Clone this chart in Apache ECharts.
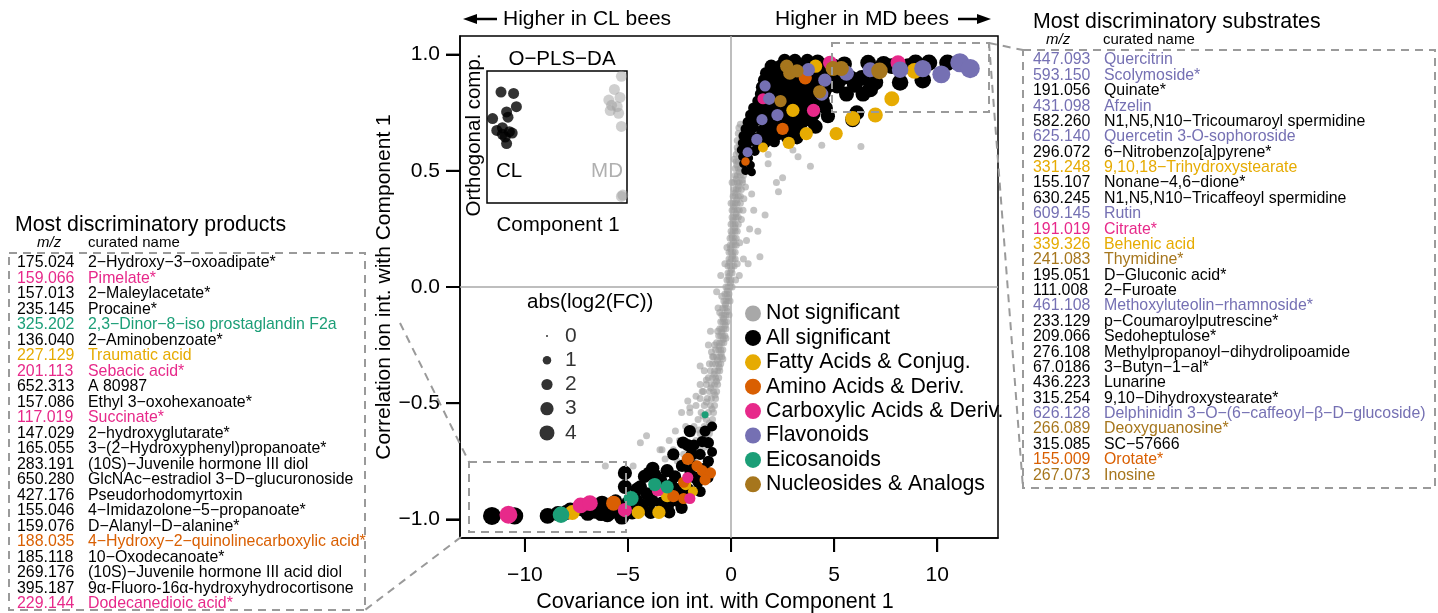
<!DOCTYPE html>
<html><head><meta charset="utf-8">
<script src="https://cdn.jsdelivr.net/npm/echarts@6/dist/echarts.min.js"></script>
<style>html,body{margin:0;padding:0;background:#fff}#c{width:1438px;height:613px}</style>
</head><body><div id="c"></div>
<script>
const FONT = '"Liberation Sans", Arial, sans-serif';
const xTicks = [-10, -5, 0, 5, 10];
const yTicks = [-1, -0.5, 0, 0.5, 1];
const sizeLegendValues = [0, 1, 2, 3, 4];
const X_MIN = -13.15, X_MAX = 12.95, Y_MIN = -1.08, Y_MAX = 1.08;

// Not significant features [covariance, correlation]
const notSig = [
[0.45,0.70],[0.70,0.70],[1.00,0.70],
[0.35,0.66],[0.55,0.66],[0.90,0.66],
[0.30,0.63],[0.50,0.63],[0.75,0.63],[1.30,0.63],
[0.30,0.60],[0.45,0.60],[0.65,0.60],[1.10,0.60],
[0.25,0.57],[0.40,0.57],[0.60,0.57],[0.85,0.57],
[0.25,0.54],[0.35,0.54],[0.50,0.54],[0.70,0.54],
[0.20,0.51],[0.35,0.51],[0.45,0.51],[0.65,0.51],
[0.20,0.48],[0.30,0.48],[0.45,0.48],[0.60,0.48],
[0.15,0.45],[0.30,0.45],[0.40,0.45],[0.55,0.45],
[0.15,0.42],[0.25,0.42],[0.35,0.42],[0.50,0.42],
[0.10,0.39],[0.20,0.39],[0.35,0.39],[0.45,0.39],
[0.10,0.36],[0.20,0.36],[0.30,0.36],[0.45,0.36],
[0.05,0.33],[0.15,0.33],[0.30,0.33],[0.40,0.33],
[0.05,0.30],[0.15,0.30],[0.25,0.30],[0.35,0.30],
[0.00,0.27],[0.10,0.27],[0.20,0.27],[0.35,0.27],
[0.00,0.24],[0.10,0.24],[0.20,0.24],[0.30,0.24],
[-0.05,0.21],[0.05,0.21],[0.15,0.21],[0.25,0.21],
[-0.05,0.18],[0.05,0.18],[0.15,0.18],[0.25,0.18],
[-0.10,0.15],[0.00,0.15],[0.10,0.15],[0.20,0.15],
[-0.10,0.12],[0.00,0.12],[0.10,0.12],[0.20,0.12],
[-0.15,0.09],[-0.05,0.09],[0.05,0.09],[0.15,0.09],
[-0.15,0.06],[-0.05,0.06],[0.05,0.06],
[-0.20,0.03],[-0.10,0.03],[0.00,0.03],
[-0.25,0.00],[-0.15,0.00],[-0.05,0.00],[0.05,0.00],
[-0.30,-0.03],[-0.20,-0.03],[-0.10,-0.03],
[-0.35,-0.06],[-0.25,-0.06],[-0.15,-0.06],[-0.05,-0.06],
[-0.40,-0.09],[-0.30,-0.09],[-0.20,-0.09],
[-0.45,-0.12],[-0.35,-0.12],[-0.25,-0.12],[-0.10,-0.12],
[-0.50,-0.15],[-0.40,-0.15],[-0.30,-0.15],[-0.20,-0.15],
[-0.55,-0.18],[-0.45,-0.18],[-0.35,-0.18],[-0.25,-0.18],
[-0.60,-0.21],[-0.50,-0.21],[-0.40,-0.21],[-0.30,-0.21],
[-0.70,-0.24],[-0.55,-0.24],[-0.45,-0.24],[-0.35,-0.24],
[-0.75,-0.27],[-0.60,-0.27],[-0.50,-0.27],[-0.40,-0.27],
[-0.85,-0.30],[-0.70,-0.30],[-0.55,-0.30],[-0.45,-0.30],
[-0.90,-0.33],[-0.75,-0.33],[-0.60,-0.33],[-0.50,-0.33],
[-1.00,-0.36],[-0.80,-0.36],[-0.65,-0.36],[-0.55,-0.36],
[-1.10,-0.39],[-0.90,-0.39],[-0.75,-0.39],[-0.60,-0.39],
[-1.20,-0.42],[-0.95,-0.42],[-0.80,-0.42],[-0.65,-0.42],
[-1.35,-0.45],[-1.05,-0.45],[-0.85,-0.45],[-0.70,-0.45],
[-1.50,-0.48],[-1.15,-0.48],[-0.95,-0.48],[-0.75,-0.48],
[-1.70,-0.51],[-1.30,-0.51],[-1.00,-0.51],[-0.80,-0.51],
[-2.00,-0.54],[-1.45,-0.54],[-1.10,-0.54],[-0.85,-0.54],
[-1.60,-0.57],[-1.20,-0.57],[-0.90,-0.57],
[-1.80,-0.60],[-1.30,-0.60],[-0.95,-0.60],
[-1.50,-0.63],[-1.05,-0.63],
[-1.70,-0.66],[-1.15,-0.66],
[-2.00,-0.69],[-1.30,-0.69],
[-2.30,-0.72],
[0.38,0.685],[0.62,0.645],[0.42,0.615],[0.33,0.585],[0.52,0.555],[0.28,0.525],[0.40,0.495],[0.24,0.465],
[0.36,0.435],[0.19,0.405],[0.28,0.375],[0.14,0.345],[0.24,0.315],[0.09,0.285],[0.19,0.255],[0.04,0.225],
[0.12,0.195],[-0.02,0.165],[0.07,0.135],[-0.07,0.105],[0.02,0.075],[-0.11,0.045],[-0.03,0.015],[-0.18,-0.015],
[-0.12,-0.045],[-0.27,-0.075],[-0.18,-0.105],[-0.37,-0.135],[-0.28,-0.165],[-0.45,-0.195],[-0.38,-0.225],
[-0.58,-0.255],[-0.48,-0.285],[-0.66,-0.315],[-0.57,-0.345],[-0.82,-0.375],[-0.70,-0.405],[-0.98,-0.435],
[-0.78,-0.465],[-1.2,-0.495],[-0.92,-0.525],[-1.35,-0.555],[-1.05,-0.585],[-1.55,-0.615],[-1.25,-0.645],
[-2.2,-0.60],[-2.5,-0.66],[-1.9,-0.63],[-2.8,-0.70],[-3.2,-0.74],[-2.2,-0.77],[-1.6,-0.70],
[0.55,0.46],[0.62,0.38],[0.5,0.29],[0.42,0.19],[0.3,0.10],[0.22,0.03],[-0.45,-0.04],[-0.55,-0.11],
[-0.65,-0.19],[-0.8,-0.25],[-0.95,-0.28],[-1.05,-0.33],[-1.3,-0.36],[-1.5,-0.42],[-1.7,-0.47],[-2.1,-0.49],
[-0.3,0.10],[-0.2,0.17],[-0.25,-0.22],[-0.4,-0.31],[0.0,0.36],[0.05,0.45],[0.15,0.55],
[2.2,0.45],[2.3,0.41],[2.5,0.47],[1.4,0.13],[1.3,0.24],[1.65,0.31],[0.83,0.10],[0.6,0.12],
[0.58,0.33],[1.8,0.53],[1.8,0.57],[3.25,0.56],[3.85,0.52],[4.4,0.61],[6.3,0.605],[1.0,0.40],
[0.9,0.25],[1.2,0.62],[3.0,0.59],[0.75,0.20],[1.1,0.33],[0.4,0.05],[0.7,0.43],
[-4.4,-0.67],[-3.35,-0.70],[-2.4,-0.54],[-2.0,-0.52],[-6.1,-0.77],[-4.75,-0.77],[-4.1,-0.64],
[-3.45,-0.70],[-1.4,-0.45],[-1.5,-0.34],[-1.0,-0.19],[-0.63,-0.09],[-0.9,-0.30],[-1.2,-0.40],
[-2.7,-0.62],[-3.0,-0.66],[-2.6,-0.75],[-1.8,-0.75],[-1.5,-0.78],[-2.0,-0.80],[-0.5,0.05],
[-0.7,-0.02],[-1.1,-0.25]
];

// All significant features [covariance, correlation, abs(log2FC)]
const allSig = [
[2.6,0.975,3],[3.1,0.975,3],[3.7,0.975,3],[4.2,0.97,3.5],
[1.95,0.95,3],[2.4,0.95,3],[2.9,0.955,3],[3.4,0.95,3],[3.9,0.95,3.5],[4.4,0.955,3.5],[5.0,0.95,4],
[1.7,0.92,2.5],[2.1,0.925,3],[2.55,0.92,3],[3.05,0.915,3],[3.5,0.92,3],[4.0,0.92,3.5],[4.5,0.925,3.5],[5.1,0.915,4],
[1.6,0.89,2.5],[2.0,0.885,2.5],[2.45,0.89,3],[2.9,0.895,3],[3.35,0.885,3],[3.8,0.89,3],[4.25,0.885,3.5],[4.75,0.895,3.5],[5.2,0.885,4],
[1.5,0.86,2.5],[1.9,0.855,2.5],[2.3,0.86,3],[2.8,0.865,3],[3.2,0.855,3],[3.65,0.86,3],[4.1,0.865,3.5],[4.6,0.855,3.5],[5.15,0.865,4],
[1.45,0.83,2.5],[1.85,0.835,2.5],[2.25,0.825,3],[2.7,0.83,3],[3.15,0.835,3],[3.6,0.825,3],[4.05,0.83,3.5],[4.5,0.835,3.5],
[1.3,0.80,2],[1.7,0.795,2.5],[2.15,0.80,3],[2.6,0.805,3],[3.05,0.795,3],[3.5,0.80,3],[3.95,0.795,3.5],[4.45,0.80,3.5],
[1.1,0.77,2],[1.5,0.775,2.5],[1.95,0.765,2.5],[2.4,0.77,3],[2.85,0.775,3],[3.3,0.765,3],[3.75,0.77,3],[4.6,0.77,3.5],
[0.95,0.74,2],[1.35,0.745,2],[1.8,0.735,2.5],[2.25,0.74,2.5],[2.7,0.745,3],[3.15,0.735,3],[3.6,0.74,3],[4.0,0.745,3.5],[4.7,0.735,3.5],
[0.8,0.71,1.5],[1.2,0.715,2],[1.65,0.705,2],[2.1,0.71,2.5],[2.55,0.715,2.5],[3.0,0.705,3],[3.45,0.71,3],[3.9,0.715,3],
[0.7,0.68,1.5],[1.05,0.685,2],[1.5,0.675,2],[1.95,0.68,2],[2.4,0.685,2.5],[2.85,0.675,2.5],[3.3,0.68,3],[4.1,0.69,3.5],
[0.6,0.65,1.5],[0.95,0.655,1.5],[1.35,0.645,2],[1.8,0.65,2],[2.25,0.655,2.5],[2.7,0.645,2.5],[3.2,0.64,2.5],
[0.55,0.62,1.2],[0.85,0.625,1.5],[1.25,0.615,1.5],[1.65,0.62,2],[2.1,0.625,2],
[0.5,0.59,1.2],[0.8,0.595,1.2],[1.15,0.585,1.5],
[0.55,0.56,1],[0.85,0.555,1.2],
[0.6,0.53,1],[0.95,0.525,1],
[0.7,0.50,1],[1.0,0.495,1],
[5.5,0.96,4],[5.8,0.90,4],[6.0,0.87,4.5],[6.35,0.90,4.5],[6.65,0.965,4.5],[6.75,0.85,4.5],[7.0,0.88,4.5],
[7.4,0.96,4.5],[7.8,0.95,4.5],[8.2,0.88,5],[8.6,0.95,4.5],[8.95,0.965,5],[9.3,0.89,5],[9.6,0.965,5],
[10.5,0.965,5],[6.1,0.75,4],[5.9,0.72,4],[5.6,0.83,4],[6.4,0.83,4],[4.8,0.907,4],[5.29,0.893,4],
[-11.6,-0.985,6],[-10.5,-0.985,5.5],[-8.9,-0.985,4.5],[-8.4,-0.975,4],[-8.0,-0.97,4],[-7.8,-0.96,4],
[-6.95,-0.974,4],[-6.6,-0.965,4],[-6.26,-0.93,4],[-6.0,-0.98,4],[-5.78,-0.966,4],[-5.5,-0.95,3.5],
[-5.3,-0.99,4],[-5.15,-0.80,3.5],[-5.15,-0.86,3.5],[-5.0,-0.93,3.5],[-4.8,-0.97,3.5],[-4.6,-0.92,3.5],
[-4.56,-0.87,3],[-4.4,-0.86,3],[-4.3,-0.94,3],[-4.2,-0.815,3],[-4.08,-0.89,3],[-4.0,-0.80,2.5],
[-3.9,-0.97,3],[-3.83,-0.92,3],[-3.8,-0.78,3],[-3.69,-0.81,3],[-3.5,-0.87,3],[-3.35,-0.93,3],
[-3.3,-0.96,2.5],[-3.1,-0.79,3],[-3.06,-0.94,2.5],[-3.0,-0.97,2.5],[-2.9,-0.85,2.5],[-2.8,-0.72,2.5],
[-2.72,-0.815,2.5],[-2.6,-0.92,2.5],[-2.57,-0.87,2.5],[-2.4,-0.95,2.5],[-2.38,-0.77,2.5],[-2.33,-0.67,2.5],
[-2.3,-0.90,2.5],[-2.1,-0.68,2.5],[-2.09,-0.87,2.5],[-2.0,-0.62,2.5],[-1.9,-0.72,2.5],[-1.8,-0.68,2],
[-1.8,-0.77,2],[-1.75,-0.82,2.5],[-1.5,-0.72,2],[-1.5,-0.88,2],[-1.4,-0.665,2],[-1.3,-0.78,2],
[-1.26,-0.62,2],[-1.12,-0.82,2],[-1.1,-0.67,2],[-1.1,-0.75,2],[-0.92,-0.60,1.5],[-0.92,-0.71,1.5],
[-3.4,-0.83,2.5],[-2.0,-0.79,2],[-1.6,-0.84,2],[-2.9,-0.91,2.5],[-4.7,-0.95,3],[-5.6,-0.92,3],
[-7.2,-0.955,4],[-6.3,-0.975,4]
];

const fattyAcids = [
[8.9,0.93,4.5],[7.8,0.81,4],[5.9,0.725,4],[7.0,0.74,4],[5.1,0.66,3],[3.65,0.66,3],[2.8,0.62,2.5],
[3.0,0.76,3],[4.1,0.95,3],[1.55,0.60,1.5],
[-7.7,-0.97,4],[-4.5,-0.97,3],[-3.5,-0.97,3],[-3.1,-0.9,2.5],[-1.85,-0.88,1.5],[-2.2,-0.85,2]
];
const aminoAcids = [
[3.6,0.90,3],[2.5,0.68,2.5],[0.7,0.54,1],
[-5.7,-0.93,4],[-2.8,-0.9,2.5],[-2.1,-0.74,2.5],[-1.65,-0.77,2],[-1.4,-0.79,2],[-1.0,-0.8,2],
[-1.26,-0.83,2],[-2.3,-0.84,2],[-2.3,-0.91,2]
];
const carboxylicAcids = [
[8.1,0.965,4],[4.8,0.965,3.5],[4.0,0.76,3],[1.55,0.81,2],
[-10.8,-0.98,6],[-7.3,-0.94,4.5],[-6.85,-0.93,4.5],[-5.15,-0.96,3.5],[-3.55,-0.875,2.5],[-2.1,-0.82,2],[-2.0,-0.91,2]
];
const flavonoids = [
[11.1,0.965,7],[11.6,0.94,7],[10.2,0.915,6],[9.3,0.94,5.5],[8.2,0.935,5],[6.75,0.935,4],[5.6,0.92,4],
[3.75,0.935,3],[4.4,0.83,3],[4.55,0.89,3],[1.85,0.81,2.5],[2.25,0.74,2.5],[1.5,0.72,2],[1.25,0.635,2],
[0.8,0.58,1.5],[1.65,0.865,2]
];
const eicosanoids = [
[-8.25,-0.98,5],[-4.85,-0.91,4],[-3.7,-0.85,3],[-3.1,-0.86,3],[-1.26,-0.55,0.6]
];
const nucleosides = [
[7.2,0.93,5],[5.35,0.94,4],[4.95,0.94,4],[4.3,0.84,3],[2.7,0.95,3],[2.85,0.92,3],[3.2,0.93,3],[2.4,0.80,2.5]
];

// inset O-PLS-DA scores (relative units)
const insetCL = [[0.10,0.84],[0.19,0.83],[0.21,0.73],[0.04,0.64],[0.14,0.69],[0.15,0.65],[0.07,0.55],
[0.11,0.57],[0.16,0.54],[0.13,0.50],[0.14,0.45],[0.18,0.53],[0.11,0.52]];
const insetMD = [[0.96,0.96],[0.91,0.86],[0.95,0.80],[0.89,0.74],[0.93,0.73],[0.94,0.68],[0.88,0.70],
[0.96,0.58],[0.96,0.05],[0.97,0.06],[0.87,0.78]];

// lists
const productMz = ['175.024','159.066','157.013','235.145','325.202','136.040','227.129','201.113','652.313',
'157.086','117.019','147.029','165.055','283.191','650.280','427.176','155.046','159.076','188.035','185.118',
'269.176','395.187','229.144'];
const productNames = ['2−Hydroxy−3−oxoadipate*','Pimelate*','2−Maleylacetate*','Procaine*',
'2,3−Dinor−8−iso prostaglandin F2a','2−Aminobenzoate*','Traumatic acid','Sebacic acid*','A 80987',
'Ethyl 3−oxohexanoate*','Succinate*','2−hydroxyglutarate*','3−(2−Hydroxyphenyl)propanoate*',
'(10S)−Juvenile hormone III diol','GlcNAc−estradiol 3−D−glucuronoside','Pseudorhodomyrtoxin',
'4−Imidazolone−5−propanoate*','D−Alanyl−D−alanine*','4−Hydroxy−2−quinolinecarboxylic acid*',
'10−Oxodecanoate*','(10S)−Juvenile hormone III acid diol','9α-Fluoro-16α-hydroxyhydrocortisone',
'Dodecanedioic acid*'];
const productClass = ['n','c','n','n','e','n','f','c','n','n','c','n','n','n','n','n','n','n','a','n','n','n','c'];

const substrateMz = ['447.093','593.150','191.056','431.098','582.260','625.140','296.072','331.248','155.107',
'630.245','609.145','191.019','339.326','241.083','195.051','111.008','461.108','233.129','209.066','276.108',
'67.0186','436.223','315.254','626.128','266.089','315.085','155.009','267.073'];
const substrateNames = ['Quercitrin','Scolymoside*','Quinate*','Afzelin','N1,N5,N10−Tricoumaroyl spermidine',
'Quercetin 3-O-sophoroside','6−Nitrobenzo[a]pyrene*','9,10,18−Trihydroxystearate','Nonane−4,6−dione*',
'N1,N5,N10−Tricaffeoyl spermidine','Rutin','Citrate*','Behenic acid','Thymidine*','D−Gluconic acid*',
'2−Furoate','Methoxyluteolin−rhamnoside*','p−Coumaroylputrescine*','Sedoheptulose*',
'Methylpropanoyl−dihydrolipoamide','3−Butyn−1−al*','Lunarine','9,10−Dihydroxystearate*',
'Delphinidin 3−O−(6−caffeoyl−β−D−glucoside)','Deoxyguanosine*','SC−57666','Orotate*','Inosine'];
const substrateClass = ['fl','fl','n','fl','n','fl','n','f','n','n','fl','c','f','nu','n','n','fl','n','n','n',
'n','n','n','fl','nu','n','a','nu'];

const COLORS = {n:'#000000', f:'#E6AB02', a:'#D95F02', c:'#E7298A', fl:'#7570B3', e:'#1B9E77', nu:'#A6761D'};
const GRAY = '#9C9C9C';

const sz = v => 2 + 6.5 * Math.sqrt(v);
const minus = s => String(s).replace('-', '\u2212');

const chart = echarts.init(document.getElementById('c'), null, {renderer: 'canvas'});

function txt(x, y, text, color, size, extra) {
  return {type: 'text', x: x, y: y, silent: true, z: 100,
    style: Object.assign({text: text, fill: color, fontSize: size, fontFamily: FONT,
      align: 'left', verticalAlign: 'middle'}, extra || {})};
}
const dash = {stroke: '#9A9A9A', lineWidth: 2, lineDash: [8, 6], fill: null};
function dline(x1, y1, x2, y2) {
  return {type: 'line', silent: true, z: 90, shape: {x1, y1, x2, y2}, style: Object.assign({}, dash)};
}
function drect(x, y, w, h) {
  return {type: 'rect', silent: true, z: 90, shape: {x, y, width: w, height: h}, style: Object.assign({}, dash)};
}

const LIST_FS = 15.9;
const TICK_LEN = 14;
const TICK_W = 2;
const graphics = [];
// header arrows and labels
graphics.push({type: 'line', silent: true, shape: {x1: 474, y1: 19, x2: 497, y2: 19}, style: {stroke: '#000', lineWidth: 2.5}});
graphics.push({type: 'polygon', silent: true, shape: {points: [[463, 19], [477, 14], [477, 24]]}, style: {fill: '#000'}});
graphics.push(txt(503, 19, 'Higher in CL bees', '#000', 21));
graphics.push(txt(775, 19, 'Higher in MD bees', '#000', 21));
graphics.push({type: 'line', silent: true, shape: {x1: 958, y1: 19, x2: 980, y2: 19}, style: {stroke: '#000', lineWidth: 2.5}});
graphics.push({type: 'polygon', silent: true, shape: {points: [[991, 19], [977, 14], [977, 24]]}, style: {fill: '#000'}});

// inset labels
graphics.push(txt(562, 59, 'O\u2212PLS\u2212DA', '#000', 20.5, {align: 'center'}));
graphics.push(txt(558, 225, 'Component 1', '#000', 20.5, {align: 'center'}));
graphics.push({type: 'text', x: 474, y: 135, rotation: Math.PI / 2, silent: true, z: 100,
  style: {text: 'Orthogonal comp.', fill: '#000', fontSize: 20.5, fontFamily: FONT, align: 'center', verticalAlign: 'middle'}});
graphics.push(txt(509, 171, 'CL', '#000', 20.5, {align: 'center'}));
graphics.push(txt(607, 171, 'MD', '#B0B0B0', 20.5, {align: 'center'}));

// size legend title
graphics.push(txt(527, 302, 'abs(log2(FC))', '#000', 20.5));

// left list
graphics.push(txt(15, 225, 'Most discriminatory products', '#000', 21.3));
graphics.push(txt(37, 243, 'm/z', '#000', 15, {fontStyle: 'italic'}));
graphics.push(txt(88, 243, 'curated name', '#000', 15));
productMz.forEach((m, i) => {
  const y = 263 + i * 15.5;
  const col = COLORS[productClass[i]];
  graphics.push(txt(17, y, m, col, LIST_FS));
  graphics.push(txt(88, y, productNames[i], col, LIST_FS));
});
// right list
graphics.push(txt(1033, 22, 'Most discriminatory substrates', '#000', 21.3));
graphics.push(txt(1046, 40, 'm/z', '#000', 15, {fontStyle: 'italic'}));
graphics.push(txt(1103, 40, 'curated name', '#000', 15));
substrateMz.forEach((m, i) => {
  const y = 60 + i * 15.38;
  const col = COLORS[substrateClass[i]];
  graphics.push(txt(1033, y, m, col, LIST_FS));
  graphics.push(txt(1104, y, substrateNames[i], col, LIST_FS));
});

// dashed zoom boxes and connectors
graphics.push(drect(9, 253, 356, 357));
graphics.push(drect(1023, 50, 412, 438));
graphics.push(drect(832, 43, 157, 69));
graphics.push(drect(469, 462, 157, 70));
graphics.push(dline(989, 43, 1023, 50));
graphics.push(dline(989, 43, 1023, 488));
graphics.push(dline(400, 323, 469, 462));
graphics.push(dline(461, 537, 365, 610));

function catSeries(name, data, color) {
  return {name: name, type: 'scatter', xAxisIndex: 0, yAxisIndex: 0, data: data,
    symbolSize: v => sz(v[2]), itemStyle: {color: color, opacity: 1}, z: 4};
}

const option = {
  animation: false,
  backgroundColor: '#fff',
  textStyle: {fontFamily: FONT},
  grid: [
    {left: 460, top: 36, width: 538, height: 502, show: true, borderColor: '#000', borderWidth: 1.5,
      backgroundColor: 'transparent', outerBoundsMode: 'none', containLabel: false},
    {left: 487, top: 71, width: 140, height: 132, show: true, borderColor: '#000', borderWidth: 1.5,
      backgroundColor: 'transparent', outerBoundsMode: 'none'},
    {left: 530, top: 324, width: 60, height: 121, show: false, outerBoundsMode: 'none'}
  ],
  xAxis: [
    {type: 'value', gridIndex: 0, position: 'bottom', min: X_MIN, max: X_MAX, splitLine: {show: false},
      axisLine: {show: true, onZero: false, lineStyle: {color: '#000', width: 1.5}},
      axisTick: {show: true, inside: false, length: TICK_LEN, lineStyle: {color: '#000', width: TICK_W}, customValues: xTicks},
      axisLabel: {customValues: xTicks, margin: 27, fontSize: 21, color: '#000', fontFamily: FONT, formatter: v => minus(v)},
      name: 'Covariance ion int. with Component 1', nameLocation: 'middle', nameGap: 50,
      nameTextStyle: {fontSize: 21.5, color: '#000', fontFamily: FONT, padding: [0, 28, 0, 0]}},
    {type: 'value', gridIndex: 1, min: 0, max: 1, show: false},
    {type: 'value', gridIndex: 2, min: 0, max: 1, show: false}
  ],
  yAxis: [
    {type: 'value', gridIndex: 0, position: 'left', min: Y_MIN, max: Y_MAX, splitLine: {show: false},
      axisLine: {show: true, onZero: false, lineStyle: {color: '#000', width: 1.5}},
      axisTick: {show: true, inside: false, length: TICK_LEN, lineStyle: {color: '#000', width: TICK_W}, customValues: yTicks},
      axisLabel: {customValues: yTicks, margin: 20, fontSize: 21, color: '#000', fontFamily: FONT,
        formatter: v => (v < 0 ? '\u2212' : '') + Math.abs(v).toFixed(1)},
      name: 'Correlation ion int. with Component 1', nameLocation: 'middle', nameGap: 64,
      nameTextStyle: {fontSize: 21, color: '#000', fontFamily: FONT}},
    {type: 'value', gridIndex: 1, min: 0, max: 1, show: false},
    {type: 'value', gridIndex: 2, min: -0.5, max: 4.5, inverse: true, show: false}
  ],
  legend: {
    orient: 'vertical', left: 740, top: 298, itemWidth: 16, itemHeight: 16, itemGap: 3.4,
    icon: 'circle', selectedMode: false,
    textStyle: {fontSize: 21.3, lineHeight: 21, color: '#000', fontFamily: FONT},
    data: [
      {name: 'Not significant', itemStyle: {color: '#A8A8A8', opacity: 1}},
      'All significant', 'Fatty Acids & Conjug.', 'Amino Acids & Deriv.',
      'Carboxylic Acids & Deriv.', 'Flavonoids', 'Eicosanoids', 'Nucleosides & Analogs'
    ]
  },
  graphic: graphics,
  series: [
    {name: 'Not significant', type: 'scatter', xAxisIndex: 0, yAxisIndex: 0, data: notSig,
      symbolSize: 7, itemStyle: {color: GRAY, opacity: 0.6}, z: 2,
      markLine: {silent: true, symbol: 'none', label: {show: false},
        lineStyle: {color: '#A8A8A8', width: 1.5, type: 'solid'},
        data: [{xAxis: 0}, {yAxis: 0}]}},
    catSeries('All significant', allSig, '#000000'),
    catSeries('Fatty Acids & Conjug.', fattyAcids, COLORS.f),
    catSeries('Amino Acids & Deriv.', aminoAcids, COLORS.a),
    catSeries('Carboxylic Acids & Deriv.', carboxylicAcids, COLORS.c),
    catSeries('Flavonoids', flavonoids, COLORS.fl),
    catSeries('Eicosanoids', eicosanoids, COLORS.e),
    catSeries('Nucleosides & Analogs', nucleosides, COLORS.nu),
    {name: 'CL samples', type: 'scatter', xAxisIndex: 1, yAxisIndex: 1, data: insetCL,
      symbolSize: 11, itemStyle: {color: '#000'}},
    {name: 'MD samples', type: 'scatter', xAxisIndex: 1, yAxisIndex: 1, data: insetMD,
      symbolSize: 11, itemStyle: {color: '#A0A0A0', opacity: 0.5}},
    {name: 'size key', type: 'scatter', xAxisIndex: 2, yAxisIndex: 2,
      data: sizeLegendValues.map(v => [0.283, v]), symbolSize: v => sz(v[1]), itemStyle: {color: '#000'}},
    {name: 'size key labels', type: 'scatter', xAxisIndex: 2, yAxisIndex: 2,
      data: sizeLegendValues.map(v => [0.583, v]), symbolSize: 0,
      label: {show: true, position: 'right', distance: 0, fontSize: 21, color: '#000', fontFamily: FONT,
        formatter: p => String(p.value[1])}}
  ]
};
chart.setOption(option);

// Tick marks placed through the library's own axis scales (convertToPixel)
const tickGraphics = [];
const yBase = chart.convertToPixel({yAxisIndex: 0}, Y_MIN);
const xBase = chart.convertToPixel({xAxisIndex: 0}, X_MIN);
xTicks.forEach(v => {
  const px = chart.convertToPixel({xAxisIndex: 0}, v);
  tickGraphics.push({type: 'line', silent: true, z: 95,
    shape: {x1: px, y1: yBase, x2: px, y2: yBase + TICK_LEN}, style: {stroke: '#000', lineWidth: TICK_W}});
});
yTicks.forEach(v => {
  const py = chart.convertToPixel({yAxisIndex: 0}, v);
  tickGraphics.push({type: 'line', silent: true, z: 95,
    shape: {x1: xBase - TICK_LEN, y1: py, x2: xBase, y2: py}, style: {stroke: '#000', lineWidth: TICK_W}});
});
chart.setOption({graphic: graphics.concat(tickGraphics)});
</script>
</body></html>
